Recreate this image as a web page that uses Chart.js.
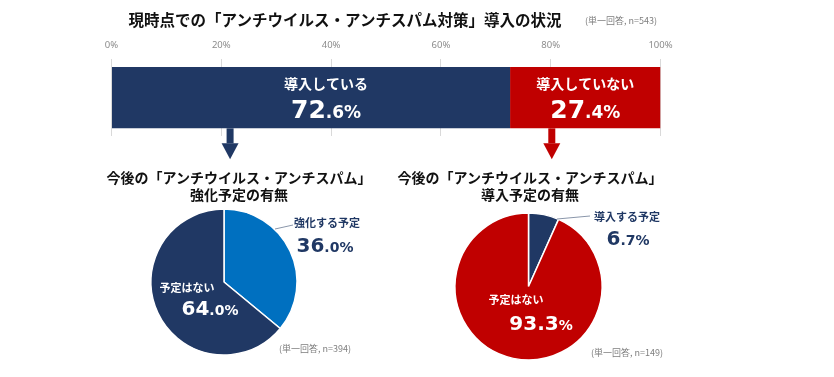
<!DOCTYPE html>
<html lang="ja">
<head>
<meta charset="utf-8">
<script src="https://cdn.jsdelivr.net/npm/chart.js@4.4.1/dist/chart.umd.min.js"></script>
<style>
  body { margin: 0; background: #fff; }
  #wrap { position: relative; width: 834px; height: 377px; overflow: hidden; font-family: 'Noto Sans CJK JP', sans-serif; }
  #wrap canvas { position: absolute; left: 0; top: 0; }
  .txt { position: absolute; white-space: nowrap; transform: translate(-50%, -50%); line-height: 1; }
  .title { font-weight: bold; color: #111; }
  .note { font-size: 9px; color: #7f7f7f; }
</style>
</head>
<body>
<div id="wrap">
  <canvas id="nowChart" width="834" height="377"></canvas>
  <canvas id="enhanceChart" width="834" height="377"></canvas>
  <canvas id="planChart" width="834" height="377"></canvas>

  <div class="txt title" style="left:345px; top:20px; font-size:15.5px;">現時点での「アンチウイルス・アンチスパム対策」導入の状況</div>
  <div class="txt note" style="left:621px; top:20px;">(単一回答, n=543)</div>

  <div class="txt title" style="left:239px; top:177px; font-size:14px;">今後の「アンチウイルス・アンチスパム」</div>
  <div class="txt title" style="left:239px; top:194px; font-size:14px;">強化予定の有無</div>
  <div class="txt note" style="left:315px; top:348px;">(単一回答, n=394)</div>

  <div class="txt title" style="left:530px; top:177px; font-size:14px;">今後の「アンチウイルス・アンチスパム」</div>
  <div class="txt title" style="left:530px; top:194px; font-size:14px;">導入予定の有無</div>
  <div class="txt note" style="left:627px; top:352px;">(単一回答, n=149)</div>
</div>

<script>
// ---- data ----
const tickValues = [0, 20, 40, 60, 80, 100];
const nowLabels = ['導入している', '導入していない'];
const nowValues = [72.6, 27.4];
const enhanceLabels = ['強化する予定', '予定はない'];
const enhanceValues = [36.0, 64.0];
const planLabels = ['導入する予定', '予定はない'];
const planValues = [6.7, 93.3];

// ---- colours ----
const NAVY = '#203864';
const RED = '#c00000';
const BLUE = '#0070c0';

const W = 834, H = 377;
const JP = "'Noto Sans CJK JP', sans-serif";
const NUM = "'DejaVu Sans', sans-serif";

/**
 * Draw a percentage with a large integer part and a smaller tail
 */
function drawValue(ctx, cx, baseline, big, small, bigSize, smallSize, color) {
    ctx.save();
    ctx.fillStyle = color;
    ctx.textBaseline = 'alphabetic';
    ctx.textAlign = 'left';
    ctx.font = 'bold ' + bigSize + 'px ' + NUM;
    const wBig = ctx.measureText(big).width;
    ctx.font = 'bold ' + smallSize + 'px ' + NUM;
    const wSmall = ctx.measureText(small).width;
    let x = cx - (wBig + wSmall) / 2;
    ctx.font = 'bold ' + bigSize + 'px ' + NUM;
    ctx.fillText(big, x, baseline);
    ctx.font = 'bold ' + smallSize + 'px ' + NUM;
    ctx.fillText(small, x + wBig, baseline);
    ctx.restore();
}

function splitValue(v, wholeBig) {
    const s = v.toFixed(1);
    if (wholeBig) return [s, '%'];
    const p = s.split('.');
    return [p[0], '.' + p[1] + '%'];
}

function drawLabel(ctx, text, x, y, size, color) {
    ctx.save();
    ctx.fillStyle = color;
    ctx.font = 'bold ' + size + 'px ' + JP;
    ctx.textAlign = 'center';
    ctx.textBaseline = 'middle';
    ctx.fillText(text, x, y);
    ctx.restore();
}

// ---- top stacked bar ----
const barLabelShift = [15, 0];
const arrowAt = [21.6, 80.2];

const barText = {
    id: 'barText',
    afterDatasetsDraw(chart) {
        const ctx = chart.ctx;
        const xs = chart.scales.x;
        chart.data.datasets.forEach((ds, i) => {
            const bar = chart.getDatasetMeta(i).data[0];
            const left = Math.min(bar.base, bar.x);
            const right = Math.max(bar.base, bar.x);
            const cx = (left + right) / 2 + barLabelShift[i];
            const top = bar.y - bar.height / 2;
            const bottom = bar.y + bar.height / 2;
            drawLabel(ctx, ds.label, cx, top + 17, 14, '#fff');
            const parts = splitValue(ds.data[0], false);
            drawValue(ctx, cx, top + 51, parts[0], parts[1], 25, 17, '#fff');

            // arrow going down to the pie below
            const ax = xs.getPixelForValue(arrowAt[i]);
            ctx.save();
            ctx.fillStyle = ds.backgroundColor;
            ctx.fillRect(ax - 3.5, bottom, 7, 15);
            ctx.beginPath();
            ctx.moveTo(ax - 8.5, bottom + 15);
            ctx.lineTo(ax + 8.5, bottom + 15);
            ctx.lineTo(ax, bottom + 31);
            ctx.closePath();
            ctx.fill();
            ctx.restore();
        });
    }
};

new Chart(document.getElementById('nowChart'), {
    type: 'bar',
    data: {
        labels: [''],
        datasets: nowLabels.map((l, i) => ({
            label: l,
            data: [nowValues[i]],
            backgroundColor: i === 0 ? NAVY : RED,
            borderWidth: 0,
            barPercentage: 0.8,
            categoryPercentage: 1.0
        }))
    },
    options: {
        indexAxis: 'y',
        responsive: false,
        animation: false,
        layout: { padding: { left: 111.5, right: W - 660.5, top: 32, bottom: H - 136 } },
        plugins: { legend: { display: false }, tooltip: { enabled: false } },
        scales: {
            x: {
                position: 'top',
                stacked: true,
                min: 0,
                max: 100,
                afterBuildTicks: axis => { axis.ticks = tickValues.map(v => ({ value: v })); },
                ticks: {
                    callback: v => v + '%',
                    color: '#8c8c8c',
                    padding: 8,
                    font: { size: 9.5, family: "'Noto Sans', sans-serif" }
                },
                grid: { color: '#d9d9d9', drawTicks: false },
                border: { display: false }
            },
            y: { stacked: true, display: false }
        }
    },
    plugins: [barText]
});

// ---- pies ----
const pieText = {
    id: 'pieText',
    afterDatasetsDraw(chart, args, opts) {
        const ctx = chart.ctx;
        const arc = chart.getDatasetMeta(0).data[0];
        const cx = arc.x, cy = arc.y;
        const labels = chart.data.labels;
        const values = chart.data.datasets[0].data;

        // leader line to the outside label
        ctx.save();
        ctx.strokeStyle = '#8a96aa';
        ctx.lineWidth = 1;
        ctx.beginPath();
        ctx.moveTo(cx + opts.leader[0], cy + opts.leader[1]);
        ctx.lineTo(cx + opts.leader[2], cy + opts.leader[3]);
        ctx.stroke();
        ctx.restore();

        // outside label (first slice)
        drawLabel(ctx, labels[0], cx + opts.outLabel[0], cy + opts.outLabel[1], 11, NAVY);
        let p = splitValue(values[0], false);
        drawValue(ctx, cx + opts.outValue[0], cy + opts.outValue[1], p[0], p[1], 20, 14, NAVY);

        // inside label (second slice)
        drawLabel(ctx, labels[1], cx + opts.inLabel[0], cy + opts.inLabel[1], 11, '#fff');
        p = splitValue(values[1], opts.wholeBig);
        drawValue(ctx, cx + opts.inValue[0], cy + opts.inValue[1], p[0], p[1], 20, 14, '#fff');
    }
};

function makePie(id, labels, values, colors, cx, cy, r, textOpts) {
    const bw = 1.5;
    const rr = r + bw / 2;
    new Chart(document.getElementById(id), {
        type: 'pie',
        data: {
            labels: labels,
            datasets: [{
                data: values,
                backgroundColor: colors,
                borderColor: '#fff',
                borderWidth: bw
            }]
        },
        options: {
            responsive: false,
            animation: false,
            layout: { padding: { left: cx - rr, right: W - cx - rr, top: cy - rr, bottom: H - cy - rr } },
            plugins: {
                legend: { display: false },
                tooltip: { enabled: false },
                pieText: textOpts
            }
        },
        plugins: [pieText]
    });
}

makePie('enhanceChart', enhanceLabels, enhanceValues, [BLUE, NAVY], 224, 282, 73, {
    leader: [51, -53, 69, -57],
    outLabel: [103, -59],
    outValue: [101, -30],
    inLabel: [-37, 6],
    inValue: [-14, 33],
    wholeBig: false
});

makePie('planChart', planLabels, planValues, [NAVY, RED], 528.5, 286.5, 73.5, {
    leader: [28.5, -67.5, 61.5, -70.5],
    outLabel: [98.5, -69.5],
    outValue: [99.5, -41.5],
    inLabel: [-12.5, 13.5],
    inValue: [12.5, 43.5],
    wholeBig: true
});
</script>
</body>
</html>
